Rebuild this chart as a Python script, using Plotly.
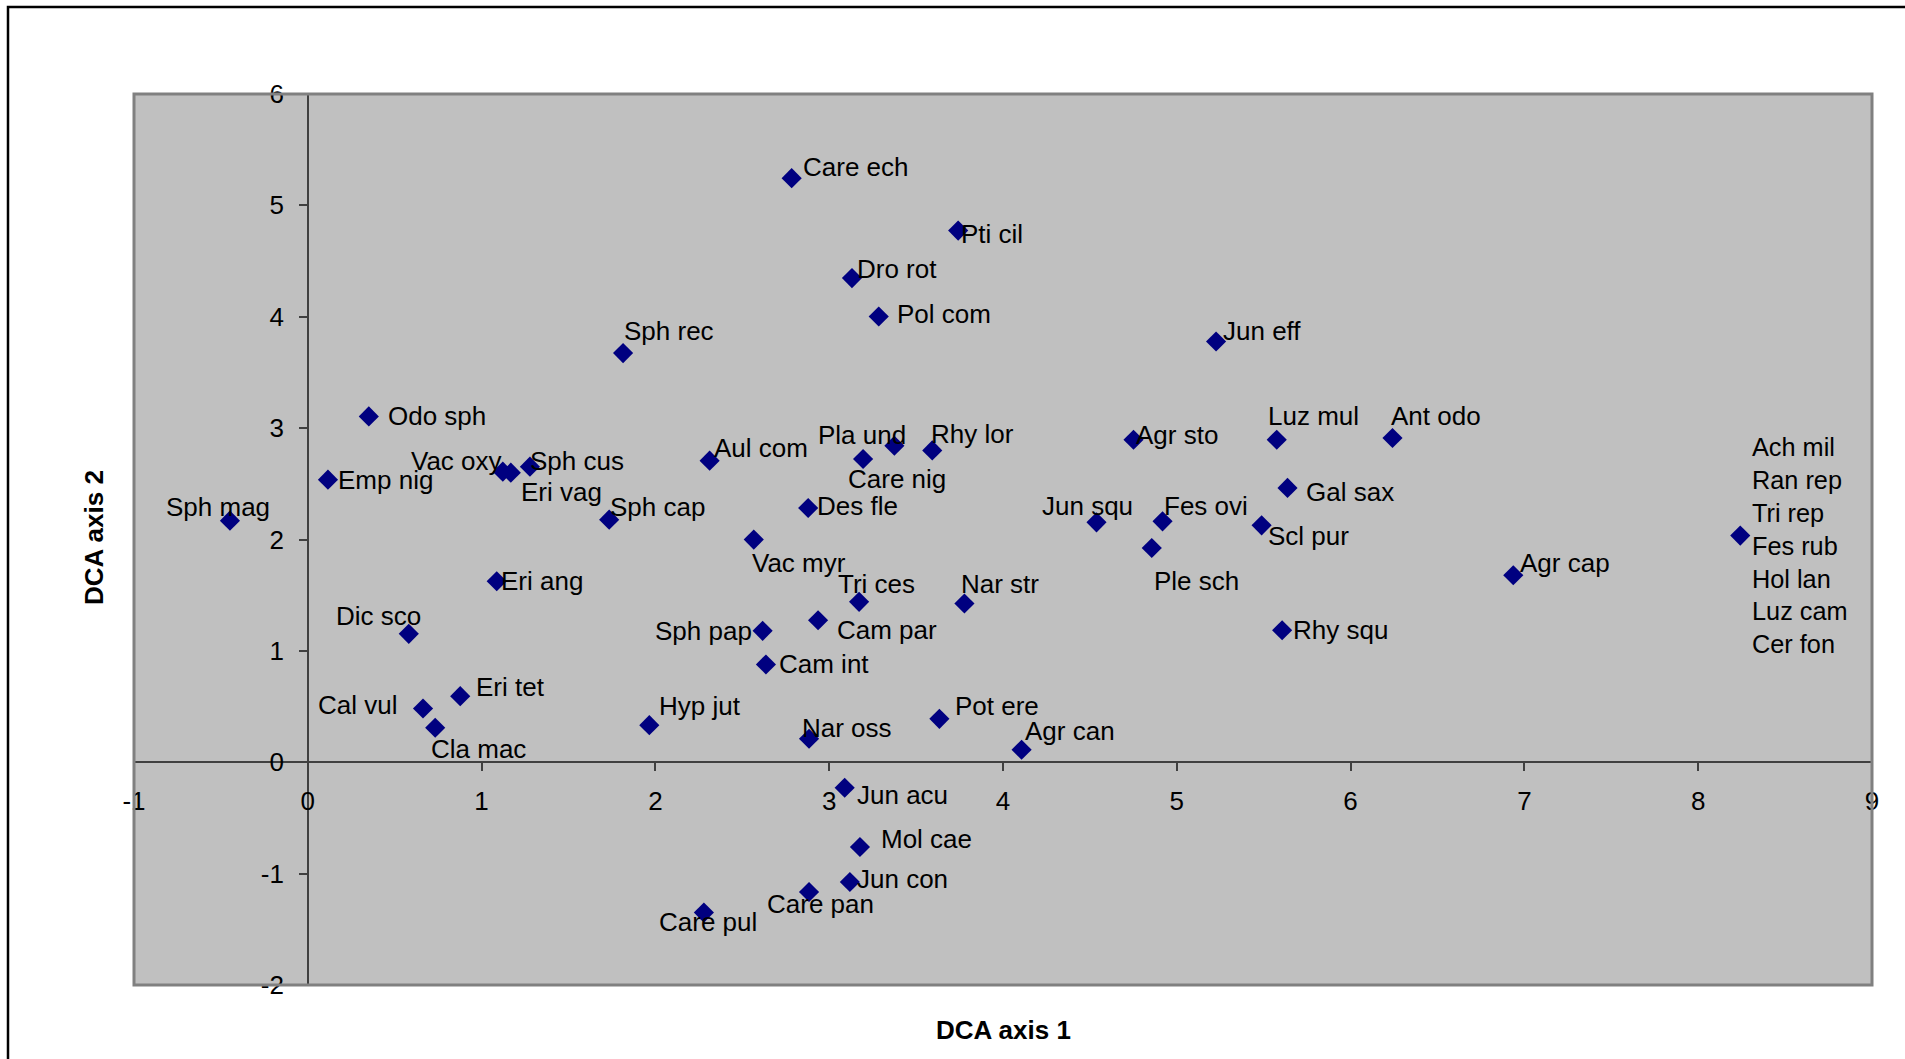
import plotly.graph_objects as go

# Species scores on the first two DCA axes
species = [
    "Care ech", "Pti cil", "Dro rot", "Pol com", "Sph rec", "Jun eff",
    "Odo sph", "Emp nig", "Vac oxy", "Eri vag", "Sph cus", "Sph mag",
    "Sph cap", "Aul com", "Pla und", "Care nig", "Rhy lor", "Des fle",
    "Vac myr", "Agr sto", "Luz mul", "Ant odo", "Gal sax", "Jun squ",
    "Fes ovi", "Scl pur", "Ple sch", "Agr cap",
    "Ach mil\nRan rep\nTri rep\nFes rub\nHol lan\nLuz cam\nCer fon",
    "Eri ang", "Dic sco", "Tri ces", "Nar str", "Cam par", "Sph pap",
    "Rhy squ", "Cam int", "Eri tet", "Cal vul", "Cla mac", "Hyp jut",
    "Pot ere", "Nar oss", "Agr can", "Jun acu", "Mol cae", "Jun con",
    "Care pan", "Care pul",
]
axis1 = [
    2.784, 3.742, 3.131, 3.285, 1.814, 5.226,
    0.351, 0.116, 1.122, 1.168, 1.278, -0.448,
    1.734, 2.312, 3.375, 3.195, 3.593, 2.879,
    2.566, 4.751, 5.575, 6.241, 5.637, 4.538,
    4.918, 5.488, 4.856, 6.936,
    8.242,
    1.087, 0.581, 3.172, 3.778, 2.936, 2.617,
    5.606, 2.636, 0.877, 0.663, 0.733, 1.965,
    3.634, 2.884, 4.107, 3.089, 3.177, 3.119,
    2.884, 2.279,
]
axis2 = [
    5.244, 4.774, 4.347, 4.002, 3.674, 3.778,
    3.105, 2.537, 2.609, 2.600, 2.654, 2.169,
    2.178, 2.708, 2.842, 2.723, 2.800, 2.283,
    1.999, 2.896, 2.896, 2.911, 2.463, 2.154,
    2.163, 2.127, 1.924, 1.679,
    2.035,
    1.625, 1.153, 1.440, 1.425, 1.275, 1.180,
    1.185, 0.878, 0.593, 0.483, 0.310, 0.333,
    0.390, 0.211, 0.112, -0.229, -0.761, -1.075,
    -1.165, -1.350,
]

x_ticks = list(range(-1, 10))
y_ticks = list(range(-2, 7))
x_tick_text = ["-1", "0", "1", "2", "3", "4", "5", "6", "7", "8", "9"]
y_tick_text = ["-2", "-1", "0", "1", "2", "3", "4", "5", "6"]

# Label placement (anchor side, pixel offset right, pixel offset down)
label_place = [
    ("left", 9, -11), ("left", 1, 3), ("left", 3, -9), ("left", 16, -3),
    ("left", -1, -22), ("left", 5, -10),
    ("left", 17, 0), ("left", 8, 0), ("right", 1, -11), ("left", 8, 19),
    ("left", -2, -6), ("right", 42, -14),
    ("left", -1, -13), ("left", 2, -13), ("right", 14, -11), ("left", -17, 20),
    ("left", -3, -16), ("left", 7, -2),
    ("left", -4, 23), ("left", 0, -5), ("left", -11, -24), ("left", -3, -22),
    ("left", 16, 4), ("right", 38, -16),
    ("left", -1, -15), ("left", 4, 11), ("left", 0, 33), ("left", 5, -12),
    ("left", 10, 10),
    ("left", 2, 0), ("right", 14, -18), ("left", -23, -18), ("left", -5, -20),
    ("left", 17, 10), ("right", -9, 0),
    ("left", 9, 0), ("left", 11, 0), ("left", 14, -9), ("right", -24, -3),
    ("left", -6, 21), ("left", 8, -19),
    ("left", 14, -13), ("left", -9, -11), ("left", 1, -19), ("left", 10, 7),
    ("left", 19, -8), ("left", 5, -3),
    ("left", -44, 12), ("left", -47, 9),
]

FONT = "Liberation Sans, Arial, sans-serif"
W, H = 1905, 1059
L, R, T, B = 134, 33, 94, 74
plot_w = W - L - R
plot_h = H - T - B

fig = go.Figure()
fig.add_trace(go.Scatter(
    x=axis1, y=axis2, mode="markers",
    marker=dict(symbol="diamond", size=15.5, color="#000080",
                line=dict(width=0)),
    hoverinfo="skip", showlegend=False,
))

annotations = []
for name, xv, yv, (side, dx, dy) in zip(species, axis1, axis2, label_place):
    multi = "\n" in name
    annotations.append(dict(
        x=xv, y=yv, xref="x", yref="y",
        text=name.replace("\n", "<br>"),
        showarrow=False, xanchor=side, yanchor="middle", align="left",
        xshift=dx, yshift=-dy,
        font=dict(family=FONT, size=25.3 if multi else 26, color="#000000"),
    ))

# Axis titles
annotations.append(dict(
    x=0.5, y=(H - B - 1030) / plot_h, xref="paper", yref="paper",
    xanchor="center", yanchor="middle",
    text="<b>DCA axis 1</b>", showarrow=False,
    font=dict(family=FONT, size=26, color="#000000"),
))
annotations.append(dict(
    x=(94 - L) / plot_w, y=(H - B - 538) / plot_h, xref="paper", yref="paper",
    xanchor="center", yanchor="middle",
    text="<b>DCA axis 2</b>", showarrow=False, textangle=-90,
    font=dict(family=FONT, size=26, color="#000000"),
))

x_rng = [-1, 9]
y_rng = [-2, 6]
y_axis_pos = (0 - x_rng[0]) / (x_rng[1] - x_rng[0])
x_axis_pos = (0 - y_rng[0]) / (y_rng[1] - y_rng[0])

axis_common = dict(
    showgrid=False, zeroline=False, showline=True,
    linecolor="#404040", linewidth=1.5,
    ticks="outside", ticklen=8, tickwidth=1.5, tickcolor="#404040",
    tickfont=dict(family=FONT, size=26, color="#000000"),
)

# Outer frame, only its top and left edges fall inside the page
fx0 = (8 - L) / plot_w
fy_top = (H - B - 7) / plot_h
fy_bot = (H - B - (H + 20)) / plot_h
fx_right = (W + 20 - L) / plot_w

fig.update_layout(
    width=W, height=H,
    margin=dict(l=L, r=R, t=T, b=B, pad=0, autoexpand=False),
    paper_bgcolor="#ffffff", plot_bgcolor="#C0C0C0",
    xaxis=dict(range=x_rng, tickvals=x_ticks, ticktext=x_tick_text,
               anchor="free", position=x_axis_pos, ticklabelstandoff=8,
               **axis_common),
    yaxis=dict(range=y_rng, tickvals=y_ticks, ticktext=y_tick_text,
               anchor="free", position=y_axis_pos, ticklabelstandoff=10,
               **axis_common),
    annotations=annotations,
    shapes=[
        dict(type="rect", xref="paper", yref="paper", x0=0, y0=0, x1=1, y1=1,
             line=dict(color="#808080", width=3), layer="above"),
        dict(type="path", xref="paper", yref="paper",
             path=f"M {fx0},{fy_bot} L {fx0},{fy_top} L {fx_right},{fy_top}",
             line=dict(color="#000000", width=2.5)),
    ],
)

fig.write_html("out.html")
